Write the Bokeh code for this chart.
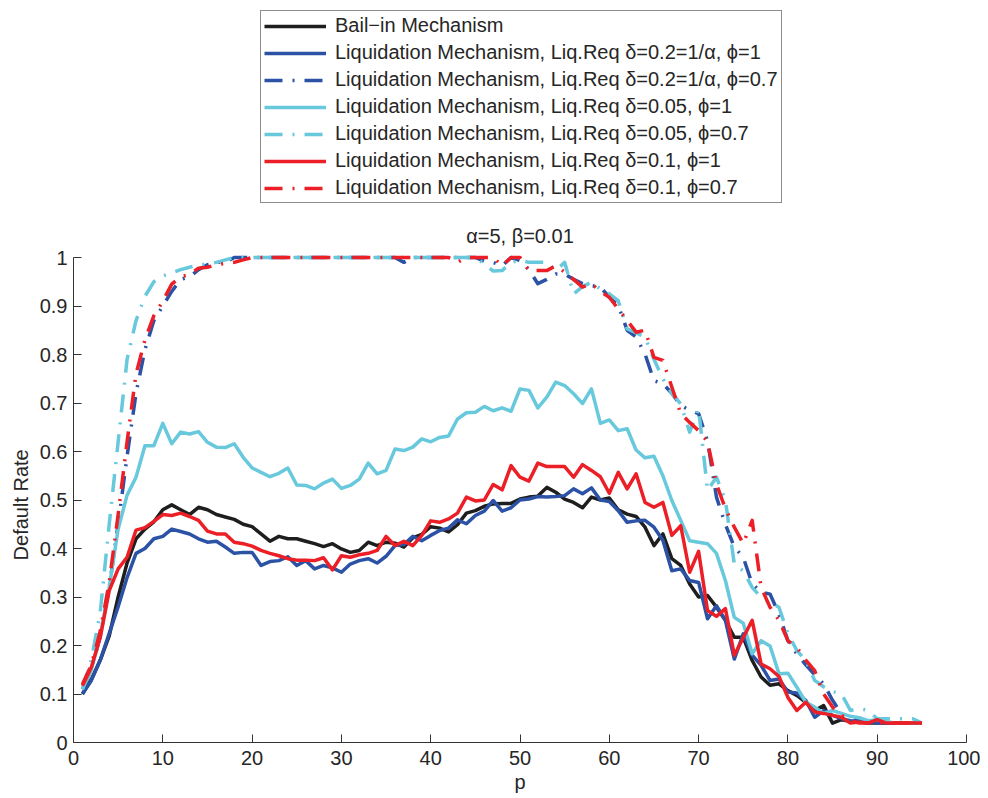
from bokeh.plotting import figure
from bokeh.models import Range1d, FixedTicker, Legend, LegendItem, Label
from bokeh.embed import file_html
from bokeh.resources import INLINE

p_vals = list(range(1, 96))

bail_in = [0.10, 0.13, 0.17, 0.22, 0.30, 0.37, 0.42, 0.44, 0.455, 0.48,
           0.49, 0.48, 0.47, 0.485, 0.48, 0.47, 0.465, 0.46, 0.45, 0.445,
           0.43, 0.415, 0.425, 0.42, 0.42, 0.415, 0.41, 0.404, 0.41, 0.399,
           0.392, 0.396, 0.413, 0.406, 0.413, 0.411, 0.403, 0.422, 0.429, 0.445,
           0.442, 0.434, 0.449, 0.473, 0.478, 0.487, 0.492, 0.493, 0.493, 0.502,
           0.506, 0.508, 0.526, 0.516, 0.502, 0.495, 0.484, 0.506, 0.50, 0.504,
           0.48, 0.471, 0.466, 0.444, 0.406, 0.43, 0.379, 0.365, 0.327, 0.30,
           0.303, 0.279, 0.252, 0.217, 0.217, 0.169, 0.135, 0.118, 0.121, 0.107,
           0.097, 0.083, 0.066, 0.076, 0.04, 0.047, 0.044, 0.042, 0.04, 0.04,
           0.04, 0.04, 0.04, 0.04, 0.04]

liq_02_1 = [0.10, 0.128, 0.17, 0.225, 0.28, 0.34, 0.39, 0.40, 0.42, 0.425,
            0.44, 0.435, 0.43, 0.42, 0.413, 0.415, 0.403, 0.39, 0.392, 0.392,
            0.365, 0.373, 0.375, 0.383, 0.365, 0.375, 0.358, 0.365, 0.36, 0.351,
            0.368, 0.375, 0.379, 0.37, 0.384, 0.406, 0.408, 0.425, 0.416, 0.427,
            0.437, 0.442, 0.459, 0.451, 0.468, 0.477, 0.499, 0.477, 0.484, 0.50,
            0.502, 0.507, 0.506, 0.507, 0.509, 0.523, 0.513, 0.525, 0.50, 0.497,
            0.478, 0.454, 0.457, 0.458, 0.444, 0.417, 0.354, 0.358, 0.334, 0.33,
            0.255, 0.282, 0.252, 0.172, 0.224, 0.18, 0.159, 0.128, 0.131, 0.104,
            0.102, 0.087, 0.052, 0.066, 0.056, 0.049, 0.045, 0.044, 0.042, 0.04,
            0.04, 0.04, 0.04, 0.04, 0.04]

liq_02_07 = [0.11, 0.15, 0.22, 0.32, 0.45, 0.59, 0.72, 0.81, 0.87, 0.90,
             0.93, 0.955, 0.96, 0.975, 0.985, 0.99, 0.99, 1.0, 1.0, 1.0,
             1.0, 1.0, 1.0, 1.0, 1.0, 1.0, 1.0, 1.0, 1.0, 1.0,
             1.0, 1.0, 1.0, 1.0, 1.0, 1.0, 0.99, 1.0, 1.0, 1.0,
             1.0, 1.0, 1.0, 1.0, 1.0, 0.992, 0.99, 0.983, 1.0, 0.994,
             0.975, 0.946, 0.955, 0.966, 0.966, 0.955, 0.946, 0.942, 0.939, 0.918,
             0.901, 0.85, 0.836, 0.801, 0.746, 0.74, 0.72, 0.695, 0.685, 0.678,
             0.622, 0.506, 0.45, 0.403, 0.382, 0.327, 0.31, 0.306, 0.265, 0.21,
             0.183, 0.16, 0.14, 0.121, 0.087, 0.059, 0.05, 0.045, 0.04, 0.04,
             0.04, 0.04, 0.04, 0.04, 0.04]

liq_005_1 = [0.11, 0.15, 0.22, 0.32, 0.44, 0.51, 0.547, 0.612, 0.612, 0.658,
             0.616, 0.64, 0.636, 0.641, 0.619, 0.609, 0.608, 0.616, 0.588, 0.566,
             0.557, 0.548, 0.555, 0.566, 0.531, 0.53, 0.523, 0.535, 0.543, 0.524,
             0.53, 0.543, 0.576, 0.554, 0.561, 0.605, 0.602, 0.609, 0.626, 0.62,
             0.629, 0.632, 0.667, 0.68, 0.681, 0.693, 0.684, 0.69, 0.683, 0.729,
             0.726, 0.69, 0.712, 0.743, 0.736, 0.719, 0.699, 0.729, 0.658, 0.665,
             0.643, 0.647, 0.603, 0.587, 0.59, 0.55, 0.499, 0.458, 0.416, 0.413,
             0.41, 0.39, 0.334, 0.258, 0.246, 0.183, 0.21, 0.199, 0.142, 0.143,
             0.114, 0.083, 0.073, 0.06, 0.066, 0.06, 0.054, 0.051, 0.045, 0.047,
             0.043, 0.04, 0.04, 0.04, 0.04]

liq_005_07 = [0.11, 0.17, 0.27, 0.45, 0.62, 0.79, 0.87, 0.92, 0.95, 0.962,
              0.968, 0.975, 0.98, 0.985, 0.986, 0.99, 0.995, 1.0, 1.0, 1.0,
              1.0, 1.0, 1.0, 1.0, 1.0, 1.0, 1.0, 1.0, 1.0, 1.0,
              1.0, 1.0, 1.0, 1.0, 1.0, 1.0, 1.0, 1.0, 1.0, 1.0,
              1.0, 1.0, 1.0, 1.0, 1.0, 0.987, 0.972, 0.973, 0.99, 0.994,
              0.99, 0.99, 0.99, 0.973, 0.99, 0.925, 0.94, 0.949, 0.935, 0.925,
              0.911, 0.853, 0.845, 0.836, 0.79, 0.75, 0.72, 0.698, 0.64, 0.688,
              0.52, 0.547, 0.499, 0.368, 0.354, 0.32, 0.299, 0.29, 0.279, 0.224,
              0.19, 0.169, 0.128, 0.115, 0.105, 0.10, 0.066, 0.07, 0.066, 0.049,
              0.049, 0.049, 0.049, 0.049, 0.04]

liq_01_1 = [0.117, 0.155, 0.217, 0.313, 0.358, 0.382, 0.438, 0.443, 0.456, 0.47,
            0.468, 0.473, 0.466, 0.458, 0.436, 0.43, 0.43, 0.413, 0.41, 0.405,
            0.396, 0.39, 0.385, 0.379, 0.376, 0.376, 0.375, 0.381, 0.356, 0.385,
            0.382, 0.387, 0.39, 0.396, 0.425, 0.406, 0.415, 0.406, 0.427, 0.457,
            0.454, 0.461, 0.473, 0.506, 0.498, 0.50, 0.532, 0.521, 0.571, 0.547,
            0.539, 0.576, 0.569, 0.569, 0.569, 0.547, 0.573, 0.561, 0.548, 0.514,
            0.557, 0.523, 0.554, 0.495, 0.485, 0.495, 0.427, 0.447, 0.351, 0.394,
            0.272, 0.26, 0.276, 0.18, 0.216, 0.252, 0.162, 0.152, 0.136, 0.093,
            0.066, 0.083, 0.063, 0.06, 0.056, 0.052, 0.04, 0.042, 0.04, 0.047,
            0.04, 0.04, 0.04, 0.04, 0.04]

liq_01_07 = [0.12, 0.16, 0.23, 0.33, 0.47, 0.62, 0.76, 0.83, 0.88, 0.91,
             0.945, 0.96, 0.965, 0.978, 0.98, 0.985, 0.988, 0.99, 0.995, 1.0,
             1.0, 1.0, 1.0, 1.0, 1.0, 1.0, 1.0, 1.0, 1.0, 1.0,
             1.0, 1.0, 1.0, 1.0, 1.0, 1.0, 1.0, 1.0, 1.0, 1.0,
             1.0, 1.0, 0.99, 1.0, 1.0, 1.0, 1.0, 0.983, 1.0, 1.0,
             0.973, 0.973, 0.973, 0.983, 0.97, 0.955, 0.939, 0.946, 0.93, 0.918,
             0.894, 0.87, 0.846, 0.85, 0.794, 0.788, 0.733, 0.678, 0.66, 0.643,
             0.62, 0.533, 0.482, 0.444, 0.41, 0.458, 0.32, 0.279, 0.252, 0.21,
             0.196, 0.17, 0.148, 0.10, 0.073, 0.056, 0.045, 0.04, 0.04, 0.04,
             0.04, 0.04, 0.04, 0.04, 0.04]

series_labels = [
    "Bail\u2212in Mechanism",
    "Liquidation Mechanism, Liq.Req \u03b4=0.2=1/\u03b1, \u03d5=1",
    "Liquidation Mechanism, Liq.Req \u03b4=0.2=1/\u03b1, \u03d5=0.7",
    "Liquidation Mechanism, Liq.Req \u03b4=0.05, \u03d5=1",
    "Liquidation Mechanism, Liq.Req \u03b4=0.05, \u03d5=0.7",
    "Liquidation Mechanism, Liq.Req \u03b4=0.1, \u03d5=1",
    "Liquidation Mechanism, Liq.Req \u03b4=0.1, \u03d5=0.7",
]
series_values = [bail_in, liq_02_1, liq_02_07, liq_005_1, liq_005_07, liq_01_1, liq_01_07]
title_text = "\u03b1=5, \u03b2=0.01"
x_label = "p"
y_label = "Default Rate"

x_ticks = [0, 10, 20, 30, 40, 50, 60, 70, 80, 90, 100]
y_ticks = [0, 0.1, 0.2, 0.3, 0.4, 0.5, 0.6, 0.7, 0.8, 0.9, 1.0]
y_tick_labels = ["0", "0.1", "0.2", "0.3", "0.4", "0.5", "0.6", "0.7", "0.8", "0.9", "1"]

BLACK = "#1e1e1e"
BLUE = "#2c52a6"
CYAN = "#68c8dc"
RED = "#ec1f27"
colors = [BLACK, BLUE, BLUE, CYAN, CYAN, RED, RED]
DASHDOT = "18 10 2 10"
dashes = ["solid", "solid", DASHDOT, "solid", DASHDOT, "solid", DASHDOT]

FONT = "Liberation Sans"
TXT = "#262626"
FS = "20px"

# Layout in pixels: the frame covers the whole figure and both axes are
# pinned where the reference has them (x=0 at 73 px, x=100 at 966 px,
# y=0 at 742 px, y=1 at 257 px).
W, H = 980, 796
AX_LEFT, AX_RIGHT = 73, 966
AX_BOTTOM, AX_TOP = 742, 257
x_unit = (AX_RIGHT - AX_LEFT) / 100.0
y_unit = float(AX_BOTTOM - AX_TOP)
x_min = -AX_LEFT / x_unit
x_max = 100 + (W - AX_RIGHT) / x_unit
y_min = -(H - AX_BOTTOM) / y_unit
y_max = AX_BOTTOM / y_unit

p = figure(width=W, height=H, output_backend="svg", toolbar_location=None,
           x_range=Range1d(x_min, x_max), y_range=Range1d(y_min, y_max),
           min_border_left=0, min_border_right=0, min_border_top=0,
           min_border_bottom=0)
p.frame_width = W
p.frame_height = H

p.outline_line_color = None
p.xgrid.visible = False
p.ygrid.visible = False
p.background_fill_color = "white"
p.border_fill_color = "white"

p.xaxis.ticker = FixedTicker(ticks=x_ticks)
p.xaxis.bounds = (0, 100)
p.xaxis.fixed_location = 0
p.yaxis.ticker = FixedTicker(ticks=y_ticks)
p.yaxis.bounds = (0, 1)
p.yaxis.fixed_location = 0
p.yaxis.major_label_overrides = {t: l for t, l in zip(y_ticks, y_tick_labels)}
for ax in (p.xaxis, p.yaxis):
    ax.major_tick_in = 8
    ax.major_tick_out = 0
    ax.minor_tick_in = 0
    ax.minor_tick_out = 0
    ax.axis_line_color = "#333333"
    ax.major_tick_line_color = "#333333"
    ax.major_label_text_font = FONT
    ax.major_label_text_font_size = FS
    ax.major_label_text_color = TXT
p.xaxis.major_label_standoff = 8
p.yaxis.major_label_standoff = 6

items = []
for lab, vals, col, dash in zip(series_labels, series_values, colors, dashes):
    r = p.line(p_vals, vals, line_color=col, line_width=3.5, line_dash=dash,
               line_join="round")
    items.append(LegendItem(label=lab, renderers=[r]))

title = Label(x=50, y=1.045, text=title_text, text_align="center",
              text_baseline="alphabetic", text_font=FONT, text_font_size=FS,
              text_color=TXT)
p.add_layout(title)

xlab = Label(x=50, y=-(781 - AX_BOTTOM) / y_unit, text=x_label, text_align="center",
             text_baseline="middle", text_font=FONT, text_font_size=FS,
             text_color=TXT)
p.add_layout(xlab)

ylab = Label(x=(20 - AX_LEFT) / x_unit, y=0.49, text=y_label, angle=90,
             angle_units="deg", text_align="center", text_baseline="middle",
             text_font=FONT, text_font_size=FS, text_color=TXT)
p.add_layout(ylab)

legend = Legend(items=items, location=(260, H - 203))
legend.label_text_font = FONT
legend.label_text_font_size = FS
legend.label_text_color = TXT
legend.glyph_width = 62
legend.glyph_height = 22
legend.spacing = 4
legend.padding = 3
legend.margin = 0
legend.label_standoff = 9
legend.border_line_color = "#1a1a1a"
legend.border_line_width = 1.3
legend.background_fill_color = "white"
legend.background_fill_alpha = 1.0
p.add_layout(legend, "center")

open("out.html", "w").write(file_html(p, INLINE))
